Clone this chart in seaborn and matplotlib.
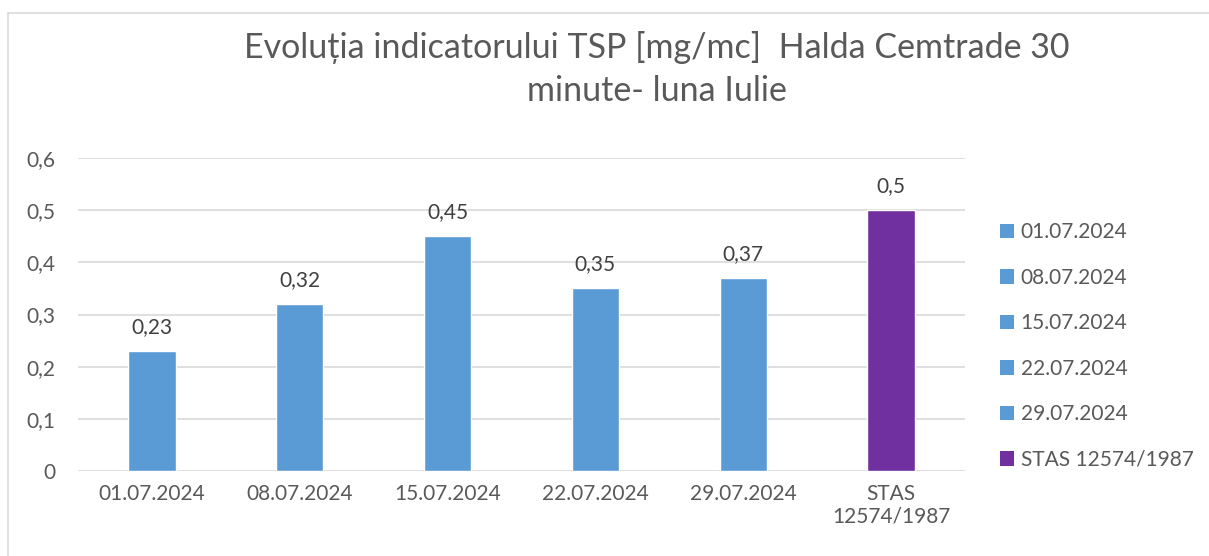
import matplotlib
matplotlib.use("Agg")
import matplotlib.pyplot as plt
from matplotlib.lines import Line2D
from matplotlib.patches import Patch
import seaborn as sns
import pandas as pd

# chart data
categories = ["01.07.2024", "08.07.2024", "15.07.2024", "22.07.2024", "29.07.2024", "STAS 12574/1987"]
tick_labels = ["01.07.2024", "08.07.2024", "15.07.2024", "22.07.2024", "29.07.2024", "STAS\n12574/1987"]
values = [0.23, 0.32, 0.45, 0.35, 0.37, 0.5]
value_labels = ["0,23", "0,32", "0,45", "0,35", "0,37", "0,5"]
y_ticks = [0, 0.1, 0.2, 0.3, 0.4, 0.5, 0.6]
y_tick_labels = ["0", "0,1", "0,2", "0,3", "0,4", "0,5", "0,6"]
title = "Evoluția indicatorului TSP [mg/mc]  Halda Cemtrade 30\nminute- luna Iulie"

BLUE = "#5B9BD5"
PURPLE = "#7030A0"
TEXT = "#595959"
GRID = "#D9D9D9"
palette = {c: (PURPLE if c.startswith("STAS") else BLUE) for c in categories}

sns.set_style("white")
plt.rcParams["font.family"] = ["Lato", "DejaVu Sans"]
FS = 15

df = pd.DataFrame({"cat": categories, "val": values})

fig = plt.figure(figsize=(12.09, 5.56), dpi=100)
ax = fig.add_axes([78 / 1209, 1 - 471 / 556, (965 - 78) / 1209, (471 - 158) / 556])

sns.barplot(data=df, x="cat", y="val", hue="cat", palette=palette, order=categories,
            width=0.32, dodge=False, legend=False, saturation=1, ax=ax)

ax.set_ylim(0, 0.6)
ax.set_yticks(y_ticks)
ax.set_yticklabels(y_tick_labels, fontsize=FS, color=TEXT)
ax.set_xticks(range(len(categories)))
ax.set_xticklabels(tick_labels, fontsize=FS, color=TEXT, linespacing=1.2)
ax.set_xlabel("")
ax.set_ylabel("")
ax.grid(axis="y", color=GRID, linewidth=1.2)
ax.set_axisbelow(True)
for s in ax.spines.values():
    s.set_visible(False)
ax.tick_params(axis="x", length=0, pad=9)
ax.tick_params(axis="y", length=0, pad=16)

for i, lbl in enumerate(value_labels):
    ax.annotate(lbl, (i, values[i]), xytext=(0, 10), textcoords="offset points",
                ha="center", va="bottom", fontsize=FS, color="#404040")

fig.text(0.543, 1 - 69 / 556, title, ha="center", va="center", fontsize=24.5,
         color=TEXT, linespacing=1.45)

handles = [Patch(facecolor=palette[c], edgecolor="none") for c in categories]
fig.legend(handles, categories, loc="center left", bbox_to_anchor=(981 / 1209, 1 - 346 / 556),
           frameon=False, fontsize=FS, labelcolor=TEXT, handlelength=0.7, handleheight=0.7,
           handletextpad=0.3, labelspacing=1.22)

# chart frame (top and left edges visible)
fig.add_artist(Line2D([8 / 1209, 8 / 1209], [0, 1 - 13 / 556], transform=fig.transFigure,
                      color=GRID, linewidth=1.2))
fig.add_artist(Line2D([8 / 1209, 1], [1 - 13 / 556, 1 - 13 / 556], transform=fig.transFigure,
                      color=GRID, linewidth=1.2))

fig.savefig("out.png", dpi=100)
